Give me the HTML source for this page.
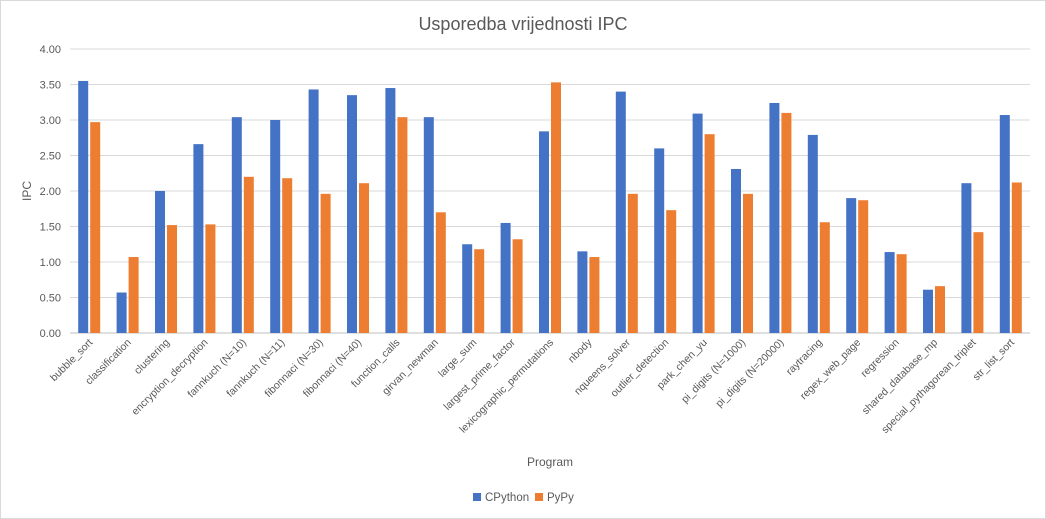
<!DOCTYPE html>
<html><head><meta charset="utf-8"><style>
body{margin:0;background:#fff;}
svg{display:block;font-family:"Liberation Sans",sans-serif;}
</style></head><body>
<svg id="chart" width="1046" height="519">
<rect x="0.5" y="0.5" width="1045" height="518" fill="#fff" stroke="#d9d9d9"/>
<text x="523" y="30" text-anchor="middle" font-size="18" fill="#595959">Usporedba vrijednosti IPC</text>
<text transform="translate(31,191) rotate(-90)" text-anchor="middle" font-size="12" fill="#595959">IPC</text>
<text x="550" y="466" text-anchor="middle" font-size="12" fill="#595959">Program</text>
<g id="grid"></g><g id="bars"></g><g id="xlabels"></g>
<g>
<rect x="473" y="493" width="8" height="8" fill="#4472C4"/>
<text x="485" y="501" font-size="11.5" fill="#595959">CPython</text>
<rect x="535" y="493" width="8" height="8" fill="#ED7D31"/>
<text x="547" y="501" font-size="11.5" fill="#595959">PyPy</text>
</g>
</svg>
<script>
const categories=["bubble_sort","classification","clustering","encryption_decryption","fannkuch (N=10)","fannkuch (N=11)","fibonnaci (N=30)","fibonnaci (N=40)","function_calls","girvan_newman","large_sum","largest_prime_factor","lexicographic_permutations","nbody","nqueens_solver","outlier_detection","park_chen_yu","pi_digits (N=1000)","pi_digits (N=20000)","raytracing","regex_web_page","regression","shared_database_mp","special_pythagorean_triplet","str_list_sort"];
const cpython=[3.55,0.57,2.00,2.66,3.04,3.00,3.43,3.35,3.45,3.04,1.25,1.55,2.84,1.15,3.40,2.60,3.09,2.31,3.24,2.79,1.90,1.14,0.61,2.11,3.07];
const pypy=[2.97,1.07,1.52,1.53,2.20,2.18,1.96,2.11,3.04,1.70,1.18,1.32,3.53,1.07,1.96,1.73,2.80,1.96,3.10,1.56,1.87,1.11,0.66,1.42,2.12];
const yTicks=[0,0.5,1,1.5,2,2.5,3,3.5,4];
const NS="http://www.w3.org/2000/svg";
const x0=70,x1=1030,yBase=333,yTop=49,yMax=4;
const y=v=>yBase-(v/yMax)*(yBase-yTop);
const band=(x1-x0)/categories.length;
const xc=i=>x0+band*(i+0.5);
function mk(tag,attrs,parent){const e=document.createElementNS(NS,tag);for(const k in attrs)e.setAttribute(k,attrs[k]);parent.appendChild(e);return e;}
const grid=document.getElementById('grid'),bars=document.getElementById('bars'),xl=document.getElementById('xlabels');
yTicks.forEach(t=>{
 const l=mk('line',{x1:x0,x2:x1,y1:y(t),y2:y(t),stroke:t===0?'#bfbfbf':'#d9d9d9'},grid);
 
 
 const tx=mk('text',{x:61,y:y(t)+4,'text-anchor':'end','font-size':11,fill:'#595959'},grid);
 tx.textContent=t.toFixed(2);
 
 
});
const bw=10;
categories.forEach((c,i)=>{
 const b1=mk('rect',{x:xc(i)-bw-1,y:y(cpython[i]),width:bw,height:yBase-y(cpython[i]),fill:'#4472C4'},bars);
 
 
 const b2=mk('rect',{x:xc(i)+1,y:y(pypy[i]),width:bw,height:yBase-y(pypy[i]),fill:'#ED7D31'},bars);
 
 
 const t=mk('text',{transform:`translate(${xc(i)+4},${yBase+10}) rotate(-45)`,'text-anchor':'end','font-size':10.5,fill:'#595959'},xl);
 t.textContent=c;
 
 
});
</script>
</body></html>
